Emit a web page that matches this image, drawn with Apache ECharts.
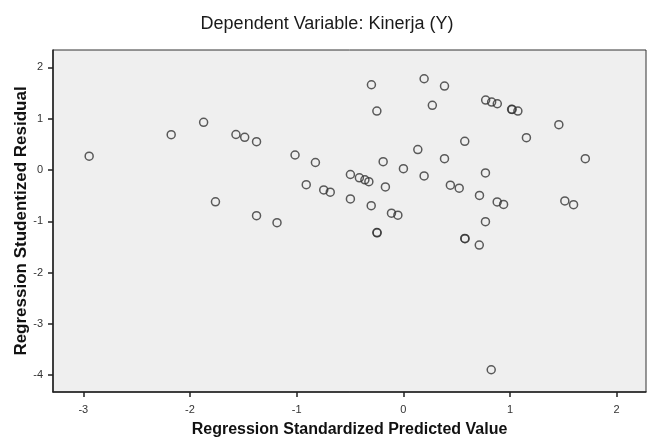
<!DOCTYPE html>
<html>
<head>
<meta charset="utf-8">
<script src="https://cdn.jsdelivr.net/npm/echarts@6/dist/echarts.min.js"></script>
<style>
html,body{margin:0;padding:0;background:#fff;}
#chart{width:654px;height:441px;}
</style>
</head>
<body>
<div id="chart"></div>
<script>
// Regression Standardized Predicted Value (x)
const predicted = [
  -2.945, -2.176, -1.872, -1.569, -1.487, -1.376, -1.761, -1.376, -1.184, -1.015,
  -0.824, -0.910, -0.746, -0.685, -0.496, -0.412, -0.360, -0.323, -0.168, -0.496,
  -0.301, -0.111, -0.051, -0.248, -0.245, -0.299, -0.248, -0.189, 0.001, 0.136,
  0.195, 0.195, 0.272, 0.386, 0.386, 0.441, 0.524, 0.576, 0.576, 0.579,
  0.714, 0.712, 0.770, 0.770, 0.772, 0.828, 0.881, 0.880, 0.940, 1.015,
  1.020, 1.074, 1.154, 1.458, 1.514, 1.596, 1.706, 0.824
];
// Regression Studentized Residual (y)
const residual = [
  0.269, 0.688, 0.929, 0.692, 0.637, 0.551, -0.620, -0.892, -1.027, 0.292,
  0.146, -0.286, -0.390, -0.432, -0.088, -0.152, -0.191, -0.228, -0.331, -0.565,
  -0.697, -0.842, -0.881, -1.220, -1.225, 1.662, 1.149, 0.162, 0.025, 0.399,
  1.779, -0.117, 1.262, 1.636, 0.220, -0.296, -0.355, 0.559, -1.335, -1.340,
  -0.497, -1.465, -0.058, -1.009, 1.364, 1.325, 1.292, -0.623, -0.672, 1.183,
  1.180, 1.149, 0.629, 0.883, -0.604, -0.676, 0.220, -3.896
];
const titleText = 'Dependent Variable: Kinerja (Y)';
const xName = 'Regression Standardized Predicted Value';
const yName = 'Regression Studentized Residual';

const points = predicted.map((v, i) => [v, residual[i]]);

const chart = echarts.init(document.getElementById('chart'), null, {renderer: 'canvas'});
const font = '"Liberation Sans", Arial, sans-serif';
chart.setOption({
  animation: false,
  backgroundColor: '#ffffff',
  title: {
    text: titleText,
    left: 'center',
    top: 10,
    textStyle: {fontFamily: font, fontSize: 18, fontWeight: 'normal', color: '#1a1a1a'}
  },
  grid: {
    left: 53, right: 8, top: 50, bottom: 49,
    containLabel: false,
    outerBoundsMode: 'none',
    show: true,
    backgroundColor: '#efefef',
    borderColor: '#333',
    borderWidth: 1
  },
  xAxis: {
    type: 'value',
    min: -3.284, max: 2.275,
    splitNumber: 5,
    name: xName,
    nameLocation: 'middle',
    nameGap: 30,
    nameMoveOverlap: false,
    nameTextStyle: {fontFamily: font, fontSize: 16, fontWeight: 'bold', color: '#111'},
    axisLine: {show: true, onZero: false, lineStyle: {color: '#222', width: 1.5}},
    axisTick: {show: true, inside: false, length: 5, lineStyle: {color: '#222', width: 1.5}},
    axisLabel: {showMinLabel: false, showMaxLabel: false, margin: 12, fontFamily: font, fontSize: 11, color: '#333'},
    splitLine: {show: false}
  },
  yAxis: {
    type: 'value',
    min: -4.33, max: 2.34,
    splitNumber: 6,
    name: yName,
    nameLocation: 'middle',
    nameGap: 23,
    nameMoveOverlap: false,
    nameTextStyle: {fontFamily: font, fontSize: 17, fontWeight: 'bold', color: '#111'},
    axisLine: {show: true, onZero: false, lineStyle: {color: '#222', width: 1.5}},
    axisTick: {show: true, inside: false, length: 5, lineStyle: {color: '#222', width: 1.5}},
    axisLabel: {showMinLabel: false, showMaxLabel: false, margin: 10, fontFamily: font, fontSize: 11, color: '#333'},
    splitLine: {show: false}
  },
  series: [{
    type: 'scatter',
    data: points,
    symbol: 'circle',
    symbolSize: 8,
    itemStyle: {color: 'rgba(0,0,0,0)', borderColor: '#333', borderWidth: 1.5}
  }]
});
</script>
</body>
</html>
